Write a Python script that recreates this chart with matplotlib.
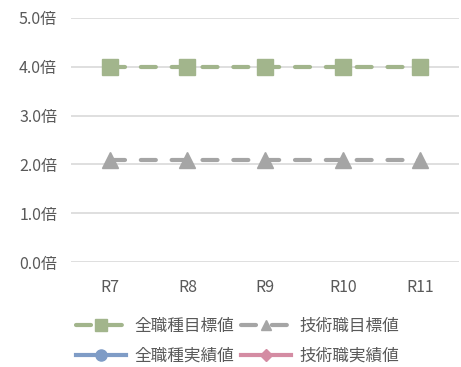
import numpy as np
import matplotlib
matplotlib.use("Agg")
import matplotlib.pyplot as plt
from matplotlib.lines import Line2D

plt.rcParams['font.family'] = ['Noto Sans CJK JP', 'DejaVu Sans']

# years and ratios (倍)
years = ["R7", "R8", "R9", "R10", "R11"]
all_target = [4.0, 4.0, 4.0, 4.0, 4.0]
tech_target = [2.1, 2.1, 2.1, 2.1, 2.1]
all_actual = [np.nan] * 5
tech_actual = [np.nan] * 5
yticks = [0.0, 1.0, 2.0, 3.0, 4.0, 5.0]

GREEN = "#a2b58c"
GRAY = "#a5a5a5"
BLUE = "#7f9cc6"
PINK = "#d48ca3"
TEXT = "#595959"

fig = plt.figure(figsize=(4.61, 3.67), dpi=100)
ax = fig.add_axes([0.154, 0.286, 0.842, 0.665])

x = np.arange(len(years))
dash = dict(linestyle=(0, (3.6, 3.8)), linewidth=3.0, dash_capstyle='round')
ax.plot(x, all_target, color=GREEN, marker='s', markersize=11, **dash, zorder=3)
ax.plot(x, tech_target, color=GRAY, marker='^', markersize=11, **dash, zorder=3)
ax.plot(x, all_actual, color=BLUE, marker='o', linewidth=3.0, zorder=3)
ax.plot(x, tech_actual, color=PINK, marker='D', linewidth=3.0, zorder=3)

ax.set_xlim(-0.5, len(years) - 0.5)
ax.set_ylim(0, 5)
ax.set_yticks(yticks)
ax.set_yticklabels([f"{v:.1f}倍" for v in yticks])
ax.set_xticks(x)
ax.set_xticklabels(years)
ax.grid(axis='y', color='#d9d9d9', linewidth=1.2)
ax.set_axisbelow(True)
for s in ax.spines.values():
    s.set_visible(False)
ax.tick_params(length=0, labelsize=11.5, colors=TEXT, pad=10)
ax.tick_params(axis='x', pad=12)

# legend fills column by column: targets on the first row, actuals on the second
handles = [
    Line2D([], [], color=GREEN, marker='s', markersize=9, **dash),
    Line2D([], [], color=BLUE, marker='o', markersize=8, linewidth=3.0),
    Line2D([], [], color=GRAY, marker='^', markersize=7, **dash),
    Line2D([], [], color=PINK, marker='D', markersize=6, linewidth=3.0),
]
labels = ["全職種目標値", "全職種実績値", "技術職目標値", "技術職実績値"]
leg = fig.legend(handles, labels, ncol=2, loc='center', bbox_to_anchor=(0.515, 0.07),
                 frameon=False, fontsize=12, handlelength=3.0, handletextpad=0.5,
                 columnspacing=0.45, labelspacing=0.75)
for t in leg.get_texts():
    t.set_color(TEXT)

fig.savefig("out.png", dpi=100)
